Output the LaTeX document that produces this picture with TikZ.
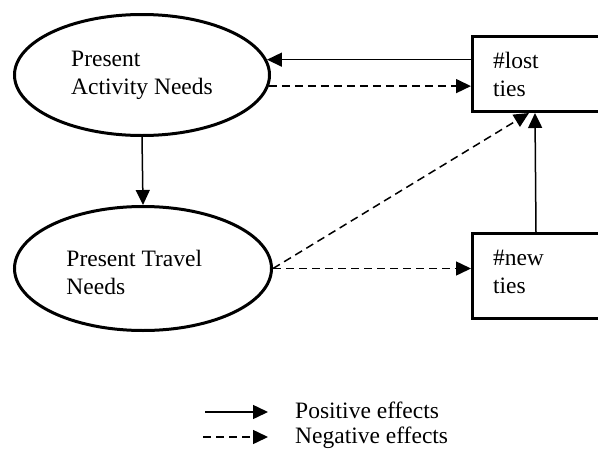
\documentclass[tikz,border=0pt]{standalone}
\usepackage{fontspec}
\setmainfont{Liberation Serif}
\usetikzlibrary{shapes.geometric,arrows.meta}
\begin{document}
\begin{tikzpicture}[x=1pt,y=-1pt,
  txt/.style={font=\fontsize{23.5pt}{28pt}\selectfont},
  oval/.style={ellipse,draw,line width=3pt,inner sep=2pt,align=left,txt},
  box/.style={rectangle,draw,line width=3pt,inner xsep=20.5pt,inner ysep=2pt,text width=109pt,align=left,anchor=north west,txt},
  tip/.style={-{Triangle[length=15pt,width=14pt]}},
  posarrow/.style={tip,line width=1.5pt},
  negarrow/.style={tip,line width=1.5pt,dash pattern=on 8pt off 5pt}
]
\useasboundingbox (0,0) rectangle (598,450);
\clip (0,0) rectangle (598,450);
\node[oval,minimum width=255pt,minimum height=121pt] (e1) at (142,75) {Present\\Activity Needs};
\node[oval,minimum width=257pt,minimum height=124pt] (e2) at (143,268.5) {\makebox[153pt][l]{\rule{0pt}{25pt}Present Travel}\\Needs};
\node[box,minimum height=75pt] (b1) at (471,35) {\#lost\\ties};
\node[box,minimum height=85pt] (b2) at (471,232) {\#new\\ties\rule[-8pt]{0pt}{8pt}};

\draw[posarrow] (e1.7 -| b1.west) -- (e1.7);
\draw[negarrow] (e1.-5) -- (e1.-5 -| b1.west);
\draw[posarrow] (e1.south) -- (e2.north);
\draw[posarrow] ([xshift=65pt]b2.north west) -- ([xshift=64pt]b1.south west);
\draw[negarrow] (e2.east) -- ([xshift=58pt]b1.south west);
\draw[negarrow] (e2.east) -- (e2.east -| b2.west);

\coordinate (p1) at (205,412);
\coordinate (p2) at (268,412);
\coordinate (n1) at (203,437);
\coordinate (n2) at (268,437);
\draw[posarrow] (p1) -- (p2);
\draw[negarrow] (n1) -- (n2);
\node[txt,anchor=base west,inner sep=0pt] (ptext) at (295,418) {Positive effects};
\node[txt,anchor=base west,inner sep=0pt] (ntext) at (295,443) {Negative effects};
\end{tikzpicture}
\end{document}
